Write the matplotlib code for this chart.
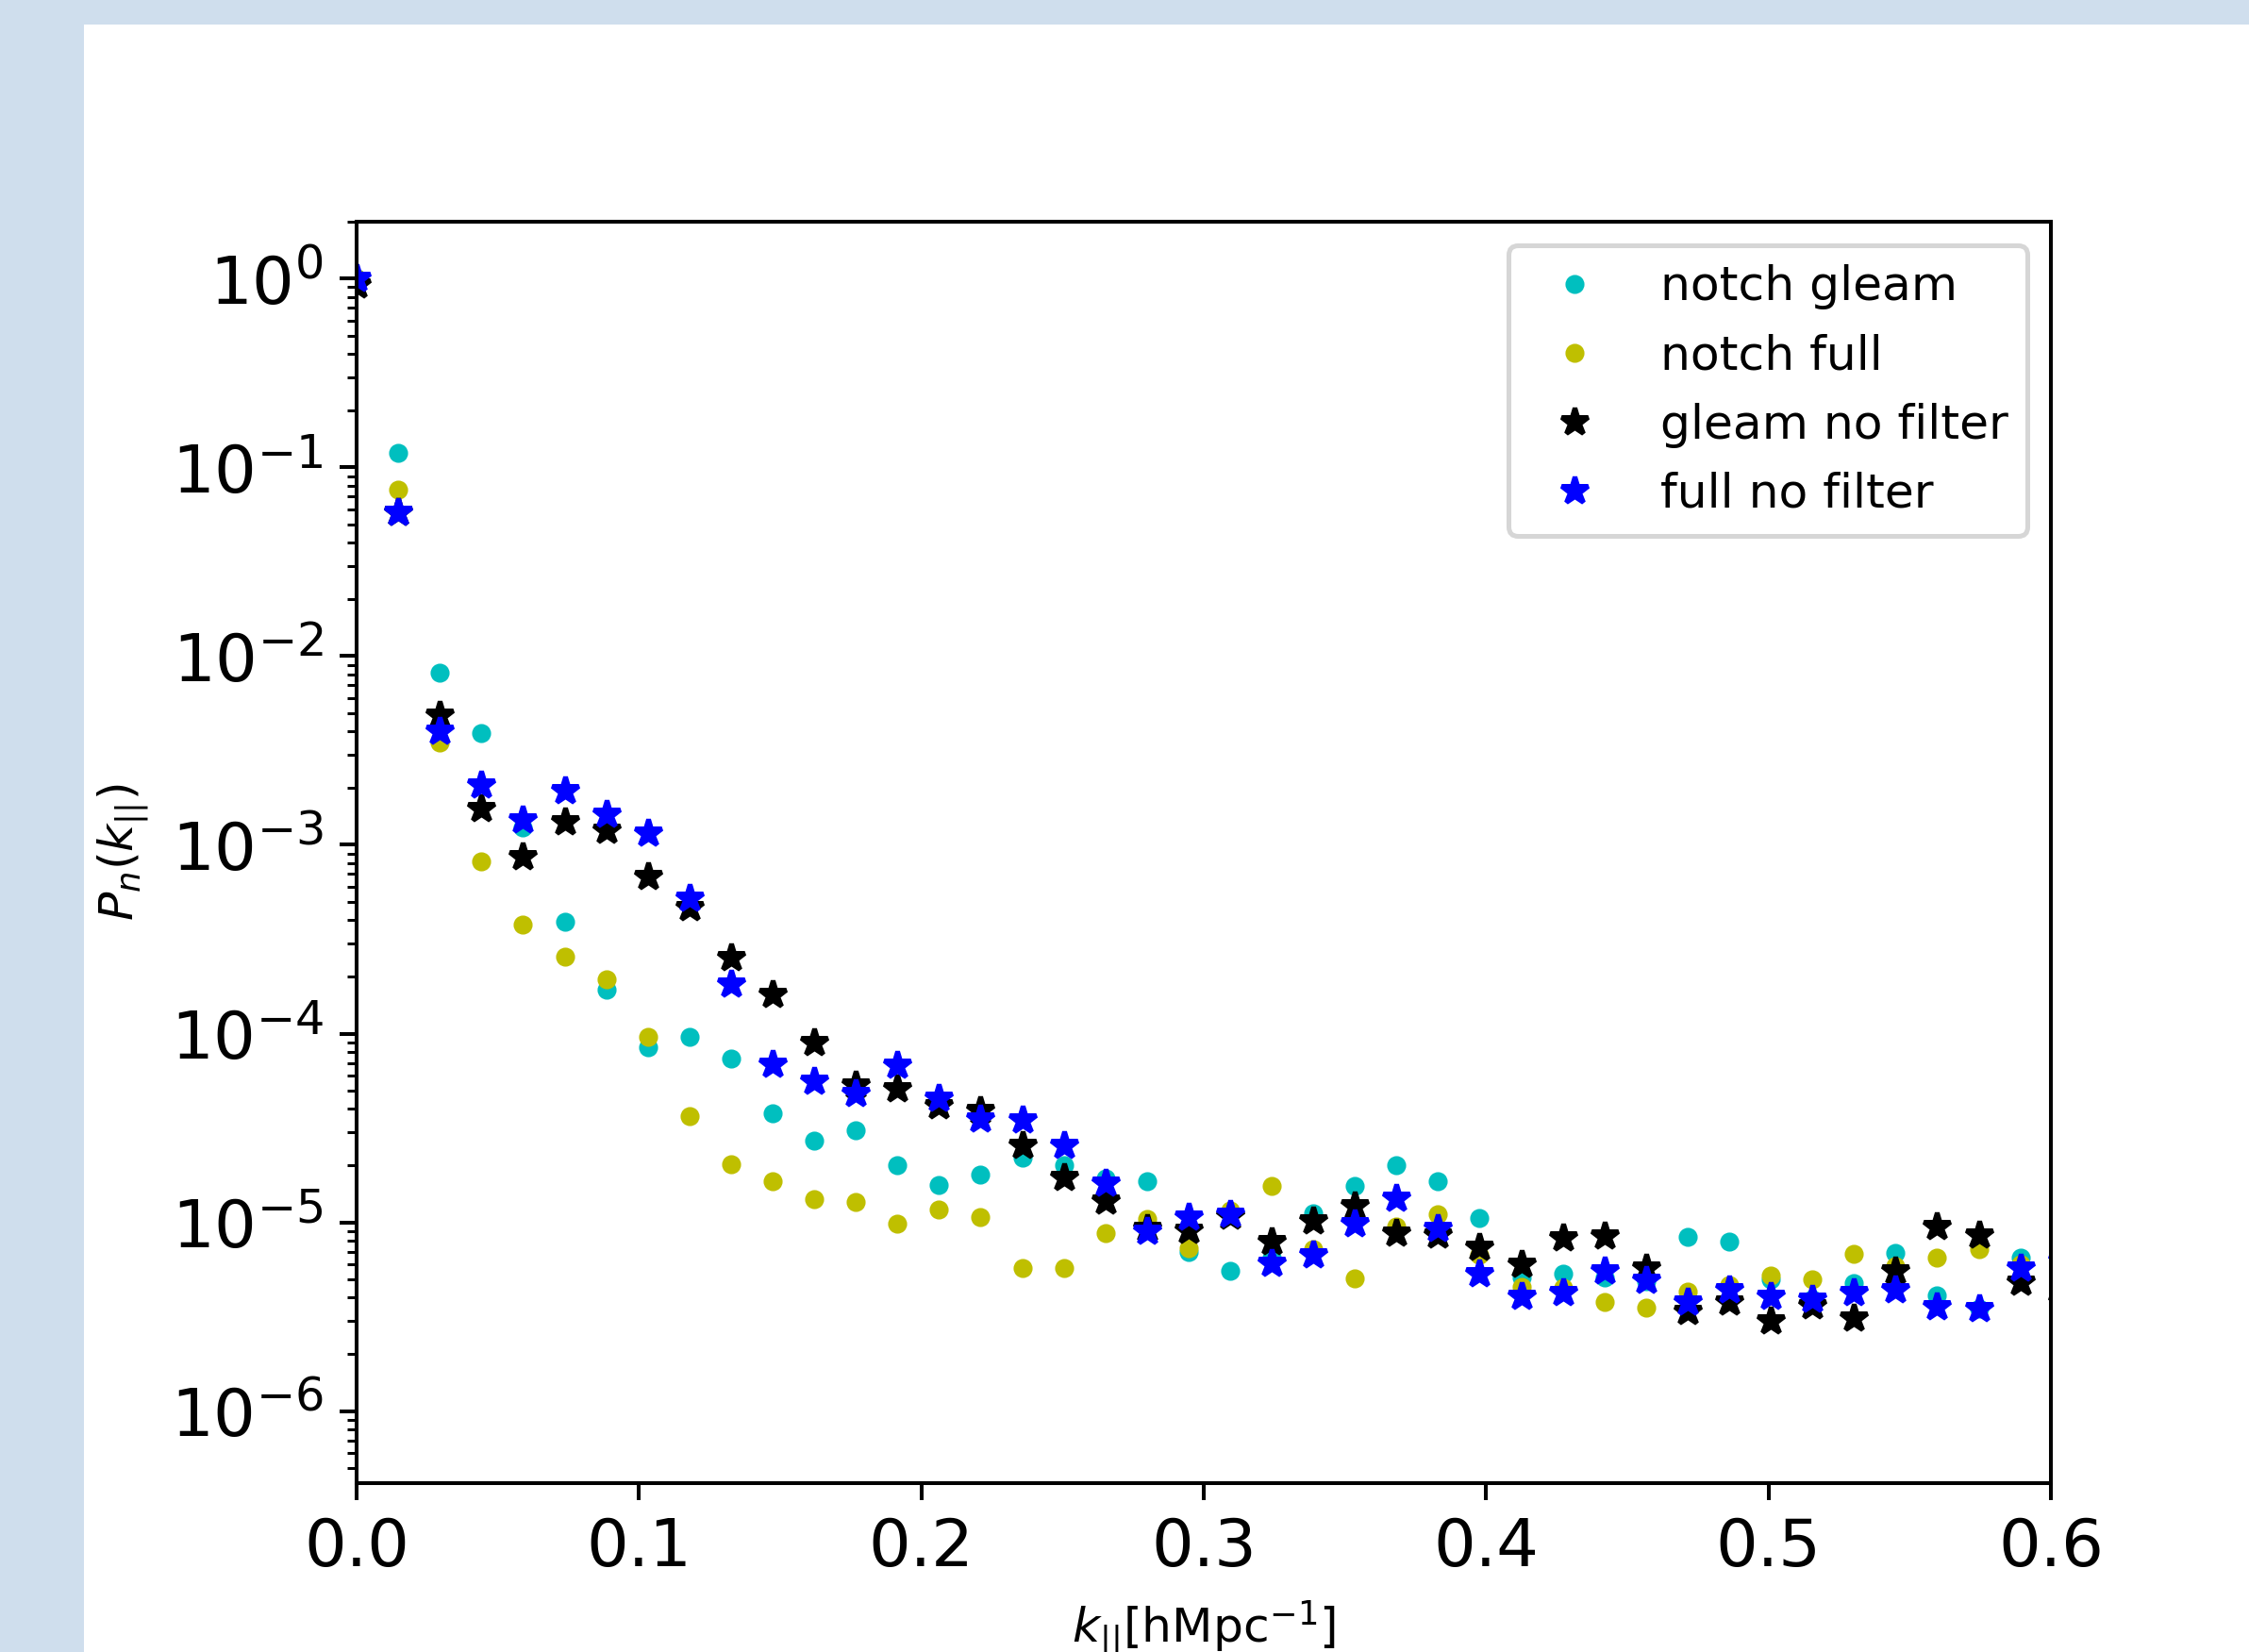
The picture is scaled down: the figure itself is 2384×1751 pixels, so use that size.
import numpy as np
import matplotlib
matplotlib.use('Agg')
import matplotlib.pyplot as plt
from matplotlib.patches import Rectangle

# k_parallel bins [h/Mpc]
k_par = [0.0, 0.01473, 0.02946, 0.04419, 0.05892, 0.07365, 0.08838, 0.10311,
         0.11784, 0.13257, 0.1473, 0.16203, 0.17676, 0.19149, 0.20622, 0.22095,
         0.23568, 0.25041, 0.26514, 0.27987, 0.2946, 0.30933, 0.32406, 0.33879,
         0.35352, 0.36825, 0.38298, 0.39771, 0.41244, 0.42717, 0.4419, 0.45663,
         0.47136, 0.48609, 0.50082, 0.51555, 0.53028, 0.54501, 0.55974, 0.57447,
         0.5892, 0.60393]

notch_gleam = [1.0, 0.119, 8.13e-3, 3.89e-3, 1.24e-3, 3.92e-4, 1.71e-4, 8.44e-5,
               9.66e-5, 7.38e-5, 3.77e-5, 2.72e-5, 3.08e-5, 2.0e-5, 1.58e-5, 1.8e-5,
               2.19e-5, 2.0e-5, 1.7e-5, 1.66e-5, 6.97e-6, 5.53e-6, 6.5e-6, 1.12e-5,
               1.56e-5, 2.0e-5, 1.65e-5, 1.05e-5, 5.1e-6, 5.33e-6, 5.1e-6, 4.9e-6,
               8.34e-6, 7.94e-6, 5.0e-6, 3.9e-6, 4.79e-6, 6.89e-6, 4.1e-6, 3.5e-6,
               6.5e-6, 5.0e-6]

notch_full = [1.0, 0.0759, 3.49e-3, 8.19e-4, 3.8e-4, 2.55e-4, 1.94e-4, 9.62e-5,
              3.66e-5, 2.04e-5, 1.65e-5, 1.32e-5, 1.28e-5, 9.84e-6, 1.17e-5, 1.07e-5,
              5.75e-6, 5.75e-6, 8.77e-6, 1.04e-5, 7.3e-6, 1.15e-5, 1.56e-5, 7.2e-6,
              5.07e-6, 9.5e-6, 1.1e-5, 6.7e-6, 4.57e-6, 4.5e-6, 3.77e-6, 3.52e-6,
              4.31e-6, 4.67e-6, 5.22e-6, 5.0e-6, 6.84e-6, 5.86e-6, 6.5e-6, 7.24e-6,
              6.0e-6, 4.5e-6]

gleam_nofilter = [0.93, 0.058, 4.84e-3, 1.55e-3, 8.61e-4, 1.33e-3, 1.2e-3, 6.81e-4,
                  4.66e-4, 2.52e-4, 1.62e-4, 8.94e-5, 5.37e-5, 5.09e-5, 4.17e-5, 3.92e-5,
                  2.57e-5, 1.72e-5, 1.29e-5, 9.3e-6, 9.1e-6, 1.08e-5, 7.93e-6, 1.02e-5,
                  1.22e-5, 8.77e-6, 8.6e-6, 7.4e-6, 5.97e-6, 8.28e-6, 8.44e-6, 5.7e-6,
                  3.36e-6, 3.77e-6, 3.02e-6, 3.63e-6, 3.11e-6, 5.53e-6, 9.47e-6, 8.6e-6,
                  4.84e-6, 3.8e-6]

full_nofilter = [1.0, 0.058, 3.99e-3, 2.08e-3, 1.35e-3, 1.93e-3, 1.46e-3, 1.15e-3,
                 5.23e-4, 1.83e-4, 6.92e-5, 5.6e-5, 4.84e-5, 6.84e-5, 4.57e-5, 3.52e-5,
                 3.47e-5, 2.57e-5, 1.62e-5, 9.02e-6, 1.07e-5, 1.1e-5, 6.1e-6, 6.7e-6,
                 9.84e-6, 1.34e-5, 9.3e-6, 5.37e-6, 4.04e-6, 4.23e-6, 5.53e-6, 4.93e-6,
                 3.8e-6, 4.4e-6, 4.07e-6, 3.92e-6, 4.23e-6, 4.4e-6, 3.56e-6, 3.49e-6,
                 5.75e-6, 6.3e-6]

DPI = 362.5
fig = plt.figure(figsize=(2384 / DPI, 1751 / DPI), dpi=DPI, facecolor='#cfdeed')
# white figure area sitting on the light blue page
fig.patches.append(Rectangle((89 / 2384, 0), 1, 1 - 26 / 1751, transform=fig.transFigure,
                             facecolor='white', edgecolor='none', zorder=-10))

ax = fig.add_axes([0.1586, 0.1022, 0.7533, 0.7636])
ax.plot(k_par, notch_gleam, 'c.', label='notch gleam')
ax.plot(k_par, notch_full, 'y.', label='notch full')
ax.plot(k_par, gleam_nofilter, 'k*', label='gleam no filter')
ax.plot(k_par, full_nofilter, 'b*', label='full no filter')
ax.set_yscale('log')
ax.set_xlim(0, 0.6)
ax.set_ylim(10**-6.382, 10**0.3015)
ax.tick_params(axis='both', which='major', labelsize=14)
ax.set_xlabel(r'$k_{||}$[hMpc$^{-1}$]')
ax.set_ylabel(r'$P_n(k_{||})$')
ax.legend(loc='upper right')

fig.savefig('out.png', dpi=DPI, facecolor=fig.get_facecolor())
